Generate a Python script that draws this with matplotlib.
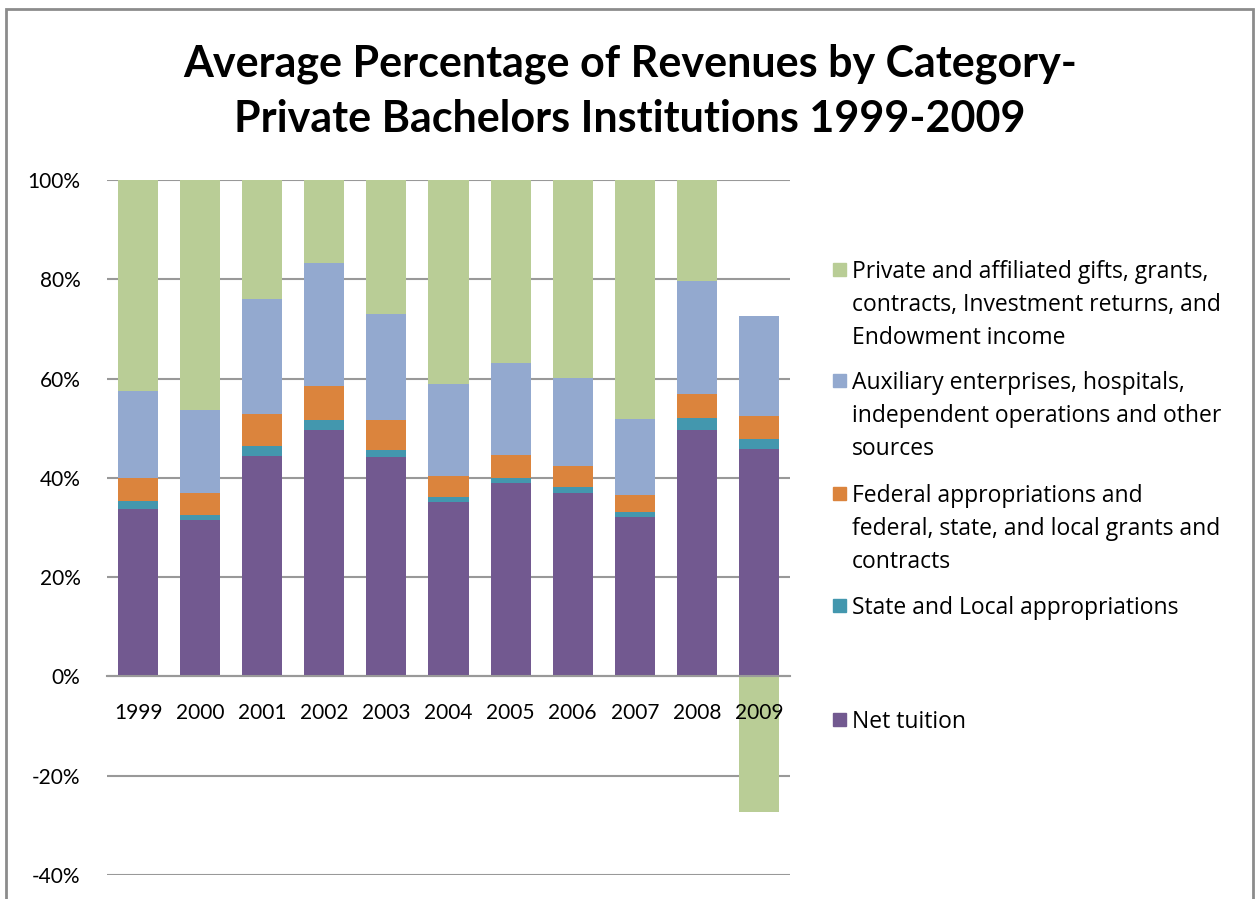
import matplotlib
matplotlib.use("Agg")
import matplotlib.pyplot as plt
from matplotlib.patches import Rectangle
import numpy as np

plt.rcParams["font.family"] = ["Lato", "DejaVu Sans"]

years = ["1999", "2000", "2001", "2002", "2003", "2004", "2005", "2006", "2007", "2008", "2009"]

# values, in percent
net_tuition = [33.8, 31.5, 44.4, 49.7, 44.2, 35.2, 39.0, 37.0, 32.1, 49.7, 45.9]
state_local = [1.5, 1.1, 2.0, 2.0, 1.4, 1.0, 1.0, 1.2, 1.0, 2.3, 1.9]
federal = [4.7, 4.4, 6.5, 6.9, 6.0, 4.2, 4.7, 4.2, 3.5, 4.8, 4.6]
auxiliary = [17.4, 16.7, 23.1, 24.6, 21.5, 18.5, 18.4, 17.8, 15.2, 22.9, 20.3]
private = [42.6, 46.3, 24.0, 16.8, 26.9, 41.1, 36.9, 39.8, 48.2, 20.3, -27.4]

series = [
    ("Net tuition", net_tuition, "#725990"),
    ("State and Local appropriations", state_local, "#4397ae"),
    ("Federal appropriations and\nfederal, state, and local grants and\ncontracts", federal, "#db843d"),
    ("Auxiliary enterprises, hospitals,\nindependent operations and other\nsources", auxiliary, "#93a9cf"),
    ("Private and affiliated gifts, grants,\ncontracts, Investment returns, and\nEndowment income", private, "#b9cd96"),
]

W, H = 1259, 899
fig = plt.figure(figsize=(W / 100, H / 100), dpi=100)

def fx(x):
    return x / W

def fy(y):
    return 1 - y / H

ax = fig.add_axes([fx(107), fy(875), fx(790) - fx(107), fy(180) - fy(875)])

x = np.arange(len(years))
pos_bottom = np.zeros(len(years))
neg_bottom = np.zeros(len(years))
for name, vals, color in series:
    v = np.array(vals)
    bottom = np.where(v >= 0, pos_bottom, neg_bottom)
    ax.bar(x, v, 0.645, bottom=bottom, color=color, zorder=2)
    pos_bottom = pos_bottom + np.where(v >= 0, v, 0)
    neg_bottom = neg_bottom + np.where(v < 0, v, 0)

ax.set_xlim(-0.5, len(years) - 0.5)
ax.set_ylim(-40, 100)
ax.set_yticks(np.arange(-40, 101, 20))
ax.set_yticklabels([f"{t}%" for t in range(-40, 101, 20)])
ax.set_xticks(x)
ax.set_xticklabels(years)
ax.yaxis.grid(True, color="#999999", linewidth=1.5)
ax.set_axisbelow(True)
ax.xaxis.set_zorder(3)  # year labels sit on top of the negative 2009 bar
for s in ["left", "top", "right"]:
    ax.spines[s].set_visible(False)
ax.spines["bottom"].set_position(("data", 0))
ax.spines["bottom"].set_color("#999999")
ax.spines["bottom"].set_linewidth(1.5)
ax.tick_params(axis="both", length=0, labelsize=15)
ax.tick_params(axis="y", pad=19)
ax.tick_params(axis="x", pad=19)

# title
fig.text(fx(630), fy(77), "Average Percentage of Revenues by Category-",
         ha="center", va="baseline", fontsize=31, fontweight="bold")
fig.text(fx(630), fy(132), "Private Bachelors Institutions 1999-2009",
         ha="center", va="baseline", fontsize=31, fontweight="bold")

# legend, top entry first
first_baseline = [278, 389, 502, 614, 728]
for (name, vals, color), b in zip(series[::-1], first_baseline):
    fig.patches.append(Rectangle((fx(833), fy(b - 2)), fx(13), 13 / H, transform=fig.transFigure,
                                 color=color, figure=fig))
    for i, line in enumerate(name.split("\n")):
        fig.text(fx(852), fy(b + 33 * i), line, ha="left", va="baseline", fontsize=16.5,
                 family=["Open Sans", "DejaVu Sans"])

# outer chart border
fig.patches.append(Rectangle((fx(6), fy(H + 20)), fx(1247), (H + 11) / H, transform=fig.transFigure,
                             fill=False, edgecolor="#8c8c8c", linewidth=2, figure=fig))

fig.savefig("out.png", dpi=100)
